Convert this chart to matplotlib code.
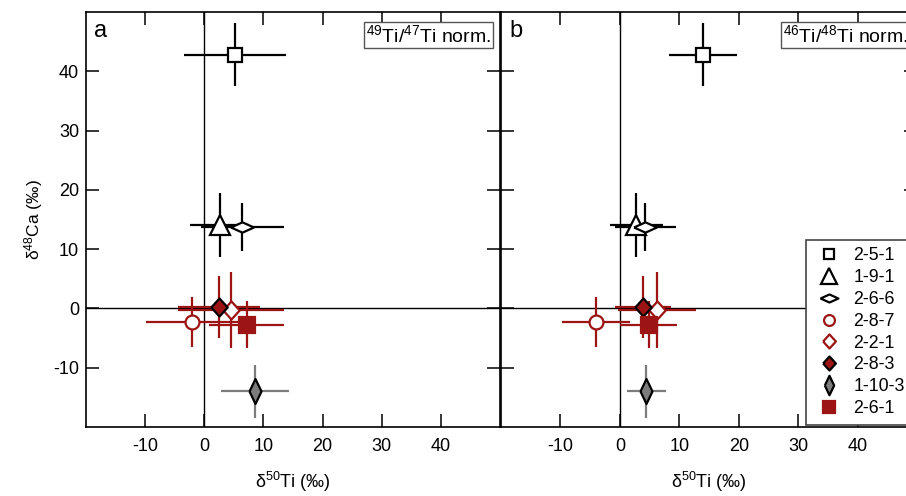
import matplotlib
matplotlib.use('Agg')
import matplotlib.pyplot as plt
from matplotlib.lines import Line2D

plt.rcParams['font.family'] = ['Liberation Sans', 'DejaVu Sans']
plt.rcParams['mathtext.fontset'] = 'custom'
plt.rcParams['mathtext.rm'] = 'Liberation Sans'
plt.rcParams['mathtext.it'] = 'Liberation Sans:italic'
plt.rcParams['axes.unicode_minus'] = False

# Данные: образцы, d48Ca и d50Ti для двух нормировок
samples = ['2-5-1', '1-9-1', '2-6-6', '2-8-7', '2-2-1', '2-8-3', '1-10-3', '2-6-1']
ca = [42.8, 14.0, 13.7, -2.3, -0.2, 0.2, -14.0, -2.75]
ca_err = [5.3, 5.4, 4.0, 4.2, 6.4, 5.2, 4.4, 4.0]
ti_a = [5.2, 2.6, 6.4, -2.1, 4.5, 2.5, 8.6, 7.15]
ti_a_err = [8.6, 5.0, 7.0, 7.8, 9.0, 7.0, 5.7, 6.4]
ti_b = [14.0, 2.8, 4.3, -4.0, 6.25, 3.9, 4.45, 4.85]
ti_b_err = [5.75, 4.4, 5.2, 5.7, 6.5, 4.7, 3.3, 4.8]

red = '#9c1414'
gray = '#7c7c7c'
flat_diamond = [(-1, 0), (0, 0.45), (1, 0), (0, -0.45), (-1, 0)]
diamond = [(-1, 0), (0, 1.1), (1, 0), (0, -1.1), (-1, 0)]
thin_diamond = [(-0.48, 0), (0, 1), (0.48, 0), (0, -1), (-0.48, 0)]

# стиль для каждого образца: маркер, размер, заливка, край, цвет усов
styles = [
    dict(marker='s', ms=9.5, mfc='white', mec='black', ecolor='black'),
    dict(marker='^', ms=15, mfc='white', mec='black', ecolor='black'),
    dict(marker=flat_diamond, ms=16.5, mfc='white', mec='black', ecolor='black'),
    dict(marker='o', ms=10, mfc='white', mec=red, ecolor=red),
    dict(marker=diamond, ms=13, mfc='white', mec=red, ecolor=red),
    dict(marker=diamond, ms=13, mfc=red, mec='black', ecolor=red),
    dict(marker=thin_diamond, ms=18, mfc=gray, mec='black', ecolor=gray),
    dict(marker='s', ms=11, mfc=red, mec=red, ecolor=red),
]

fig = plt.figure(figsize=(9.06, 4.96), dpi=100)
ax_a = fig.add_axes([86 / 906, 1 - 427 / 496, 414 / 906, 415 / 496])
ax_b = fig.add_axes([501 / 906, 1 - 427 / 496, 416 / 906, 415 / 496])


def draw_panel(ax, ti, ti_err, letter, norm_text):
    ax.axhline(0, color='black', lw=1, zorder=1)
    ax.axvline(0, color='black', lw=1, zorder=1)
    for i in range(len(samples)):
        st = styles[i]
        ax.errorbar(ti[i], ca[i], xerr=ti_err[i], yerr=ca_err[i],
                    fmt='none', ecolor=st['ecolor'], elinewidth=1.6,
                    capsize=0, zorder=2)
    for i in range(len(samples)):
        st = styles[i]
        ax.plot(ti[i], ca[i], linestyle='none', marker=st['marker'],
                ms=st['ms'], mfc=st['mfc'], mec=st['mec'], mew=1.6, zorder=3)

    ax.set_xlim(-20, 50)
    ax.set_ylim(-20, 50)
    ax.set_xticks([-10, 0, 10, 20, 30, 40])
    ax.set_yticks([-10, 0, 10, 20, 30, 40])
    ax.tick_params(direction='in', length=9.5, width=1.1, top=True, right=True,
                   labelsize=13)
    ax.tick_params(axis='x', pad=8)
    ax.tick_params(axis='y', pad=5)
    for sp in ax.spines.values():
        sp.set_linewidth(1.2)
    ax.set_xlabel('δ$^{50}$Ti (‰)', fontsize=13, labelpad=11)
    ax.text(0.02, 0.955, letter, transform=ax.transAxes, fontsize=17,
            ha='left', va='center')
    ax.text(0.978, 0.945, norm_text, transform=ax.transAxes, fontsize=14,
            ha='right', va='center',
            bbox=dict(boxstyle='square,pad=0.1', fc='white', ec='#555555', lw=1))


draw_panel(ax_a, ti_a, ti_a_err, 'a', '$^{49}$Ti/$^{47}$Ti norm.')
draw_panel(ax_b, ti_b, ti_b_err, 'b', '$^{46}$Ti/$^{48}$Ti norm.')

ax_a.set_ylabel('δ$^{48}$Ca (‰)', fontsize=12.5, labelpad=6)
ax_b.tick_params(labelleft=False)

# Легенда
handles = []
for i in range(len(samples)):
    st = styles[i]
    handles.append(Line2D([], [], linestyle='none', marker=st['marker'],
                          ms=st['ms'] * 0.78, mfc=st['mfc'], mec=st['mec'],
                          mew=1.6))
leg = fig.legend(handles, samples, loc='upper left',
                 bbox_to_anchor=(806 / 906, 1 - 240 / 496), borderaxespad=0,
                 fontsize=12.8, handlelength=1.75, handletextpad=0.5,
                 labelspacing=0.27, borderpad=0.42, fancybox=False,
                 framealpha=1, edgecolor='#444444')
leg.get_frame().set_linewidth(1.2)

plt.savefig('out.png', dpi=100)
